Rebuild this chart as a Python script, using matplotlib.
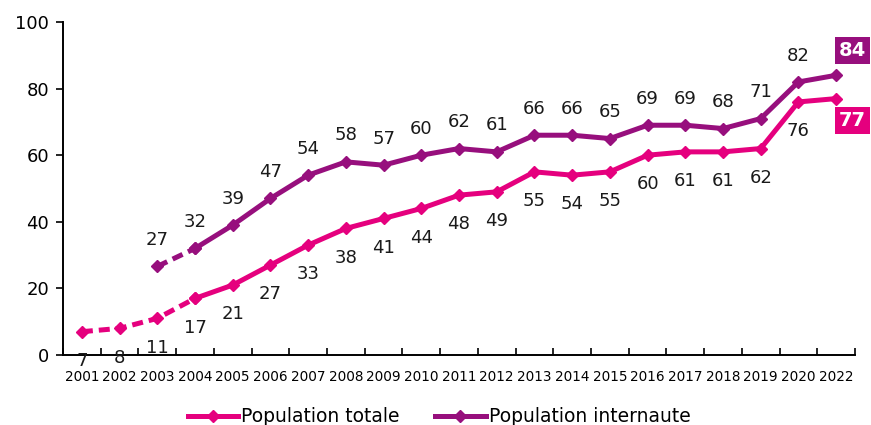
import matplotlib.pyplot as plt
import numpy as np

years = ['2001', '2002', '2003', '2004', '2005', '2006', '2007', '2008', '2009', '2010',
         '2011', '2012', '2013', '2014', '2015', '2016', '2017', '2018', '2019', '2020', '2022']
totale = [7, 8, 11, 17, 21, 27, 33, 38, 41, 44, 48, 49, 55, 54, 55, 60, 61, 61, 62, 76, 77]
internaute = [26.6, 32, 39, 47, 54, 58, 57, 60, 62, 61, 66, 66, 65, 69, 69, 68, 71, 82, 84]

pink = '#E5007E'
purple = '#970F7D'

fig = plt.figure(figsize=(8.71, 4.25), dpi=100)
ax = fig.add_axes([63 / 871, 1 - 355 / 425, 792 / 871, 333 / 425])

x_tot = np.arange(len(totale))
x_int = np.arange(2, 2 + len(internaute))

# dashed start, solid afterwards
ax.plot(x_tot[:4], totale[:4], color=pink, lw=3.6, ls=(0, (2.2, 1.2)), marker='D', ms=6.5)
ax.plot(x_tot[3:], totale[3:], color=pink, lw=3.6, marker='D', ms=6.5)
ax.plot(x_int[:2], internaute[:2], color=purple, lw=3.6, ls=(0, (2.2, 1.2)), marker='D', ms=6.5)
ax.plot(x_int[1:], internaute[1:], color=purple, lw=3.6, marker='D', ms=6.5)

# value labels
for x, v in zip(x_tot[:-1], totale[:-1]):
    ax.annotate(f'{v:.0f}', (x, v), xytext=(0, -21), textcoords='offset points',
                ha='center', va='center', fontsize=13, color='#1a1a1a')
for x, v in zip(x_int[:-1], internaute[:-1]):
    ax.annotate(f'{v:.0f}', (x, v), xytext=(0, 19), textcoords='offset points',
                ha='center', va='center', fontsize=13, color='#1a1a1a')

# boxed last values
ax.text(20.43, 91.4, f'{internaute[-1]}', ha='center', va='center', fontsize=14,
        fontweight='bold', color='white',
        bbox=dict(boxstyle='square,pad=0.2', fc=purple, ec='none'))
ax.text(20.43, 70.4, f'{totale[-1]}', ha='center', va='center', fontsize=14,
        fontweight='bold', color='white',
        bbox=dict(boxstyle='square,pad=0.2', fc=pink, ec='none'))

ax.set_xlim(-0.5, len(years) - 0.5)
ax.set_ylim(0, 100)
ax.set_yticks(range(0, 101, 20))
ax.tick_params(axis='y', labelsize=13, length=5, width=1.2, direction='out', pad=5)
ax.set_xticks(x_tot)
ax.set_xticklabels(years, fontsize=9.8)
ax.tick_params(axis='x', which='major', length=0, pad=11)
ax.set_xticks(np.arange(-0.5, len(years)), minor=True)
ax.tick_params(axis='x', which='minor', length=5, width=1.2, direction='in')

for s in ['top', 'right']:
    ax.spines[s].set_visible(False)
for s in ['left', 'bottom']:
    ax.spines[s].set_linewidth(1.4)

h1, = ax.plot([], [], color=pink, lw=3.6, marker='D', ms=6.5)
h2, = ax.plot([], [], color=purple, lw=3.6, marker='D', ms=6.5)
fig.legend([h1, h2], ['Population totale', 'Population internaute'], loc='center',
           bbox_to_anchor=(0.504, 1 - 417 / 425), ncol=2, frameon=False, fontsize=13.5,
           handlelength=2.7, handletextpad=0.15, columnspacing=1.9,
           borderaxespad=0, borderpad=0)

plt.savefig('out.png', dpi=100)
